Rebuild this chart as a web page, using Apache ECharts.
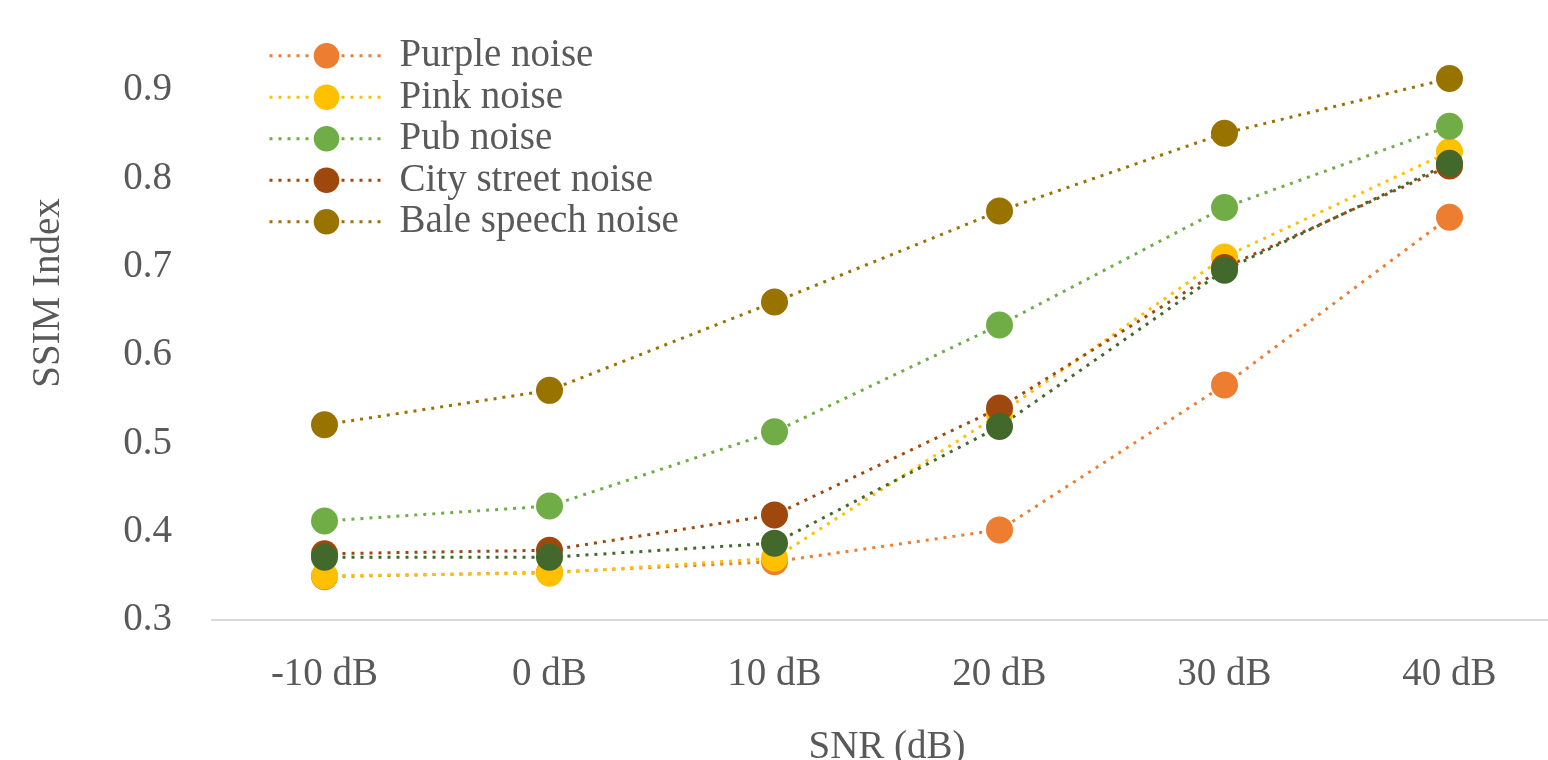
<!DOCTYPE html>
<html>
<head>
<meta charset="utf-8">
<script src="https://cdn.jsdelivr.net/npm/echarts@6/dist/echarts.min.js"></script>
<style>html,body{margin:0;padding:0;background:#fff}#c{width:1548px;height:760px}</style>
</head>
<body>
<div id="c"></div>
<script>
const categories = ['-10 dB', '0 dB', '10 dB', '20 dB', '30 dB', '40 dB'];
const purpleNoise = [0.349, 0.354, 0.366, 0.402, 0.566, 0.756];
const pinkNoise = [0.350, 0.353, 0.370, 0.533, 0.711, 0.830];
const pubNoise = [0.412, 0.429, 0.513, 0.634, 0.767, 0.859];
const cityStreetNoise = [0.375, 0.379, 0.419, 0.540, 0.699, 0.814];
const baleSpeechNoise = [0.521, 0.560, 0.660, 0.763, 0.851, 0.913];
const series6 = [0.371, 0.371, 0.387, 0.519, 0.696, 0.817];
const yTicks = { min: 0.3, max: 0.9, interval: 0.1 };

const seriesDefs = [
  { name: 'Purple noise', data: purpleNoise, color: '#ED7D31' },
  { name: 'Pink noise', data: pinkNoise, color: '#FFC000' },
  { name: 'Pub noise', data: pubNoise, color: '#70AD47' },
  { name: 'City street noise', data: cityStreetNoise, color: '#9E480E' },
  { name: 'Bale speech noise', data: baleSpeechNoise, color: '#997300' },
  { name: 'Series 6', data: series6, color: '#43682B' }
];
const legendNames = seriesDefs.slice(0, 5).map(s => s.name);
const font = '"Liberation Serif", "Times New Roman", serif';
const textColor = '#595959';
const fs = 39;

const chart = echarts.init(document.getElementById('c'), null, { renderer: 'canvas' });
chart.setOption({
  animation: false,
  backgroundColor: '#fff',
  textStyle: { fontFamily: font },
  grid: { left: 212, top: 90, width: 1350, height: 530, containLabel: false, outerBoundsMode: 'none' },
  legend: {
    data: legendNames,
    orient: 'vertical',
    left: 263,
    top: 30,
    itemWidth: 114,
    itemHeight: 32,
    itemGap: 0,
    lineStyle: { width: 3, type: [3, 6] },
    textStyle: { fontFamily: font, fontSize: fs, color: textColor, lineHeight: 41.5, padding: [0, 0, 0, 11] }
  },
  xAxis: {
    type: 'category',
    data: categories,
    boundaryGap: true,
    axisLine: { lineStyle: { color: '#D9D9D9', width: 2 } },
    axisTick: { show: false },
    axisLabel: { fontFamily: font, fontSize: fs, color: textColor, margin: 35 },
    name: 'SNR (dB)',
    nameLocation: 'middle',
    nameGap: 108,
    nameTextStyle: { fontFamily: font, fontSize: fs, color: textColor }
  },
  yAxis: {
    type: 'value',
    min: yTicks.min,
    max: yTicks.max,
    interval: yTicks.interval,
    axisLine: { show: false },
    axisTick: { show: false },
    splitLine: { show: false },
    axisLabel: { fontFamily: font, fontSize: fs, color: textColor, margin: 40, formatter: v => v.toFixed(1) },
    name: 'SSIM Index',
    nameLocation: 'middle',
    nameGap: 144,
    nameRotate: 90,
    nameTextStyle: { fontFamily: font, fontSize: fs, color: textColor, padding: [0, 0, 0, 124] }
  },
  series: seriesDefs.map(s => ({
    name: s.name,
    type: 'line',
    data: s.data,
    clip: false,
    symbol: 'circle',
    symbolSize: 27,
    itemStyle: { color: s.color },
    lineStyle: { color: s.color, width: 3, type: [3, 6] }
  }))
});
</script>
</body>
</html>
